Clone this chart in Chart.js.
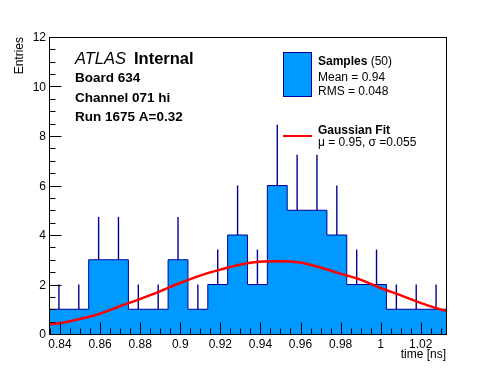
<!DOCTYPE html>
<html>
<head>
<meta charset="utf-8">
<title>Board 634 timing</title>
<script src="https://cdn.jsdelivr.net/npm/chart.js@4/dist/chart.umd.min.js"></script>
<style>
  html, body { margin: 0; padding: 0; background: #fff; }
  canvas { display: block; }
</style>
</head>
<body>
<canvas id="chart" width="496" height="372"></canvas>
<script>
// ==================================================
// DATA
// ==================================================
const histMin = 0.8345;
const histMax = 1.0326;
const counts = [1, 1, 3, 3, 1, 1, 3, 1, 2, 4, 2, 6, 5, 5, 4, 2, 2, 1, 1, 1];
const errUp = [1, 1, 1.73, 1.73, 1, 1, 1.73, 1, 1.41, 2, 1.41, 2.45, 2.24, 2.24, 2, 1.41, 1.41, 1, 1, 1];

// gaussian fit curve
const fitX = [0.8345, 0.8395, 0.8495, 0.8595, 0.8695, 0.8795, 0.8895, 0.8995, 0.9095, 0.9195, 0.9295,
  0.9395, 0.9495, 0.9595, 0.9695, 0.9795, 0.9895, 0.9995, 1.0095, 1.0195, 1.0295, 1.0326];
const fitY = [0.39, 0.43, 0.6, 0.81, 1.11, 1.4, 1.71, 2.05, 2.35, 2.59, 2.8,
  2.92, 2.94, 2.89, 2.7, 2.45, 2.21, 1.87, 1.58, 1.27, 1.0, 0.93];

const xTickLabels = ["0.84", "0.86", "0.88", "0.9", "0.92", "0.94", "0.96", "0.98", "1", "1.02"];
const yTickLabels = ["0", "2", "4", "6", "8", "10", "12"];

const infoLines = ["Board 634", "Channel 071 hi", "Run 1675 A=0.32"];
const statsLines = ["Mean = 0.94", "RMS = 0.048"];
const fitLine = "\u03bc = 0.95, \u03c3 =0.055";

// ==================================================
// BUILD DATASETS
// ==================================================
const binWidth = (histMax - histMin) / counts.length;
const histPoints = counts.map((c, i) => ({ x: histMin + i * binWidth, y: c }));
histPoints.push({ x: histMax, y: counts[counts.length - 1] });

const errPoints = counts.map((c, i) => ({
  x: histMin + (i + 0.5) * binWidth,
  y: [c, c + errUp[i]],
}));

const fitPoints = fitX.map((x, i) => ({ x: x, y: fitY[i] }));

const FILL = "rgb(0,153,255)";
const LINE = "rgb(0,0,153)";
const FONT = "'Liberation Sans', Arial, Helvetica, sans-serif";

// ==================================================
// ROOT STYLE FRAME, TICKS AND TEXT
// ==================================================
const rootFrame = {
  id: "rootFrame",
  beforeDraw(chart) {
    const ctx = chart.ctx;
    ctx.save();
    ctx.fillStyle = "#fff";
    ctx.fillRect(0, 0, chart.width, chart.height);
    ctx.restore();
  },
  afterDraw(chart) {
    const ctx = chart.ctx;
    const xs = chart.scales.x;
    const ys = chart.scales.y;
    const a = chart.chartArea;
    const crisp = (v) => Math.round(v) + 0.5;

    ctx.save();
    ctx.strokeStyle = "#000";
    ctx.lineWidth = 1;

    // frame
    ctx.strokeRect(crisp(a.left), crisp(a.top), Math.round(a.right) - Math.round(a.left), Math.round(a.bottom) - Math.round(a.top));

    // x ticks
    ctx.beginPath();
    for (let v = 0.835; v <= histMax + 1e-9; v += 0.005) {
      const px = crisp(xs.getPixelForValue(v));
      const major = xTickLabels.some((l) => Math.abs(parseFloat(l) - v) < 1e-6);
      ctx.moveTo(px, crisp(a.bottom));
      ctx.lineTo(px, crisp(a.bottom) - (major ? 12 : 6));
    }
    // y ticks
    for (let v = 0; v <= 12 + 1e-9; v += 0.5) {
      const py = crisp(ys.getPixelForValue(v));
      const major = v % 2 === 0;
      ctx.moveTo(crisp(a.left), py);
      ctx.lineTo(crisp(a.left) + (major ? 12 : 6), py);
    }
    ctx.stroke();

    // tick labels
    ctx.fillStyle = "#000";
    ctx.font = "12px " + FONT;
    ctx.textAlign = "center";
    ctx.textBaseline = "alphabetic";
    xTickLabels.forEach((l) => {
      ctx.fillText(l, xs.getPixelForValue(parseFloat(l)), 348);
    });
    ctx.textAlign = "right";
    ctx.textBaseline = "middle";
    yTickLabels.forEach((l) => {
      ctx.fillText(l, 46, ys.getPixelForValue(parseFloat(l)) + 1);
    });

    // axis titles
    ctx.textBaseline = "alphabetic";
    ctx.fillText("time [ns]", 446, 358);
    ctx.save();
    ctx.translate(23, 37);
    ctx.rotate(-Math.PI / 2);
    ctx.textAlign = "right";
    ctx.fillText("Entries", 0, 0);
    ctx.restore();

    // ATLAS label block
    ctx.textAlign = "left";
    ctx.font = "italic 16.5px " + FONT;
    ctx.fillText("ATLAS", 75, 64);
    ctx.font = "bold 16.5px " + FONT;
    ctx.fillText("Internal", 134, 64);
    ctx.font = "bold 13.5px " + FONT;
    infoLines.forEach((t, i) => ctx.fillText(t, 75, 82 + i * 19.5));

    // legend
    ctx.fillStyle = FILL;
    ctx.fillRect(284, 53, 28, 44);
    ctx.strokeStyle = LINE;
    ctx.strokeRect(283.5, 52.5, 28, 44);

    ctx.fillStyle = "#000";
    ctx.font = "bold 12px " + FONT;
    ctx.fillText("Samples", 318, 65);
    const w = ctx.measureText("Samples ").width;
    ctx.font = "12px " + FONT;
    ctx.fillText("(50)", 318 + w, 65);
    statsLines.forEach((t, i) => ctx.fillText(t, 318, 80.5 + i * 14.5));

    ctx.strokeStyle = "rgb(255,0,0)";
    ctx.lineWidth = 2;
    ctx.beginPath();
    ctx.moveTo(283, 136);
    ctx.lineTo(312, 136);
    ctx.stroke();

    ctx.font = "bold 12px " + FONT;
    ctx.fillText("Gaussian Fit", 318, 133.5);
    ctx.font = "12px " + FONT;
    ctx.fillText(fitLine, 318, 146);

    ctx.restore();
  },
};

// ==================================================
// CHART JS CANVAS
// ==================================================
const ctx = document.getElementById("chart").getContext("2d");

const myChart = new Chart(ctx, {
  type: "line",
  data: {
    datasets: [
      {
        label: "Gaussian Fit",
        data: fitPoints,
        borderColor: "rgb(255,0,0)",
        borderWidth: 2.5,
        pointRadius: 0,
        fill: false,
        cubicInterpolationMode: "monotone",
        order: 0,
      },
      {
        type: "bar",
        label: "errors",
        data: errPoints,
        backgroundColor: LINE,
        borderWidth: 0,
        barThickness: 1.4,
        inflateAmount: 0,
        order: 1,
      },
      {
        label: "Samples",
        data: histPoints,
        stepped: "before",
        borderColor: LINE,
        borderWidth: 1,
        backgroundColor: FILL,
        fill: "origin",
        pointRadius: 0,
        order: 2,
      },
    ],
  },
  options: {
    responsive: false,
    animation: false,
    layout: {
      padding: { left: 49, right: 50, top: 37, bottom: 38 },
    },
    plugins: {
      legend: { display: false },
      tooltip: { enabled: false },
    },
    scales: {
      x: {
        type: "linear",
        min: histMin,
        max: histMax,
        offset: false,
        display: false,
      },
      y: {
        type: "linear",
        min: 0,
        max: 12,
        display: false,
      },
    },
  },
  plugins: [rootFrame],
});
</script>
</body>
</html>
